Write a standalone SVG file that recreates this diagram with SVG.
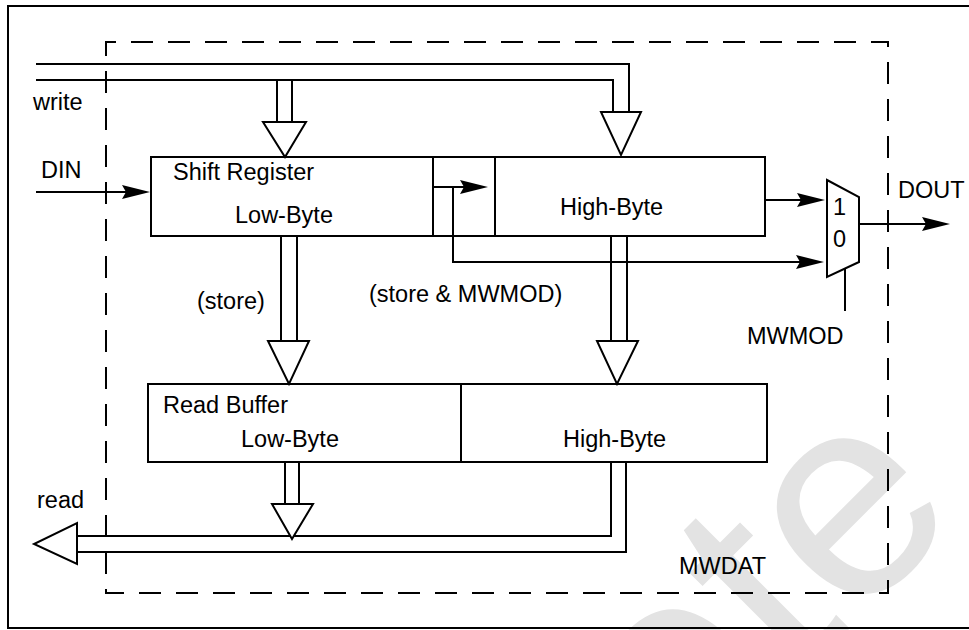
<svg xmlns="http://www.w3.org/2000/svg" width="969" height="630" viewBox="0 0 969 630">
<style>
.ln{fill:none;stroke:#000;stroke-width:2}
.box{fill:#fff;stroke:#000;stroke-width:2}
.hol{fill:#fff;stroke:#000;stroke-width:2;stroke-linejoin:miter}
.fa{fill:#000;stroke:none}
.dash{fill:none;stroke:#000;stroke-width:2;stroke-dasharray:22 15;stroke-dashoffset:12}
text{font-family:"Liberation Sans",Arial,Helvetica,sans-serif;font-size:23.5px;fill:#000}
.wm{font-size:290px;fill:#e3e3e3}
</style>
<defs>
<path id="fah" d="M0,0 L-28,-7 L-24,0 L-28,7 Z"/>
</defs>
<rect width="969" height="630" fill="#fff"/>
<text class="wm" transform="translate(794.5,684.6) rotate(-45)" x="-161">ete</text>
<rect x="8" y="6" width="975" height="622" class="ln"/>
<path d="M106,42 H888 V593 H106 Z" class="dash"/>

<g id="connectors">
  <path class="ln" d="M36,64 H629 V112"/>
  <path class="ln" d="M36,80 H613 V112"/>
  <path class="ln" d="M277,80 V122 M292,80 V122"/>
  <path class="hol" d="M263,122 L306,122 L285,157 Z"/>
  <path class="hol" d="M601,112 L641,112 L621,155 Z"/>
  <path class="ln" d="M36,192 H130"/>
  <use href="#fah" class="fa" x="150" y="192"/>
  <path class="ln" d="M433,187 H470"/>
  <use href="#fah" class="fa" x="488" y="187"/>
  <path class="ln" d="M453,187 V262 H805"/>
  <use href="#fah" class="fa" x="824" y="262"/>
  <path class="ln" d="M765,200 H806"/>
  <use href="#fah" class="fa" x="825" y="200"/>
  <path class="ln" d="M859,224 H932"/>
  <use href="#fah" class="fa" x="950" y="224"/>
  <path class="ln" d="M845,269 V311"/>
  <path class="ln" d="M281,236 V341 M297,236 V341"/>
  <path class="hol" d="M268,341 L309,341 L289,384 Z"/>
  <path class="ln" d="M611,236 V341 M627,236 V341"/>
  <path class="hol" d="M597,341 L638,341 L617,384 Z"/>
  <path class="ln" d="M77,536 H611 V462"/>
  <path class="ln" d="M77,552 H626 V462"/>
  <path class="hol" d="M77,523 L77,564 L34,544 Z"/>
  <path class="ln" d="M285,462 V504 M299,462 V504"/>
  <path class="hol" d="M272,504 L313,504 L292,539 Z"/>
</g>

<g id="shift-register">
  <rect x="151" y="157" width="614" height="79" class="ln"/>
  <path class="ln" d="M433,157 V236 M495,157 V236"/>
  <text x="173" y="180">Shift Register</text>
  <text x="235" y="223">Low-Byte</text>
  <text x="560" y="215">High-Byte</text>
</g>

<g id="mux">
  <path class="box" d="M827,180 L859,197 L859,262 L827,277 Z"/>
  <text x="833" y="215">1</text>
  <text x="833" y="247">0</text>
</g>

<g id="read-buffer">
  <rect x="148" y="384" width="619" height="78" class="ln"/>
  <path class="ln" d="M461,384 V462"/>
  <text x="163" y="413">Read Buffer</text>
  <text x="241" y="447">Low-Byte</text>
  <text x="563" y="447">High-Byte</text>
</g>

<g id="labels">
  <text x="33" y="110">write</text>
  <text x="41" y="178">DIN</text>
  <text x="898" y="198">DOUT</text>
  <text x="747" y="344">MWMOD</text>
  <text x="197" y="309">(store)</text>
  <text x="369" y="302">(store &amp; MWMOD)</text>
  <text x="37" y="508">read</text>
  <text x="679" y="574">MWDAT</text>
</g>
</svg>
